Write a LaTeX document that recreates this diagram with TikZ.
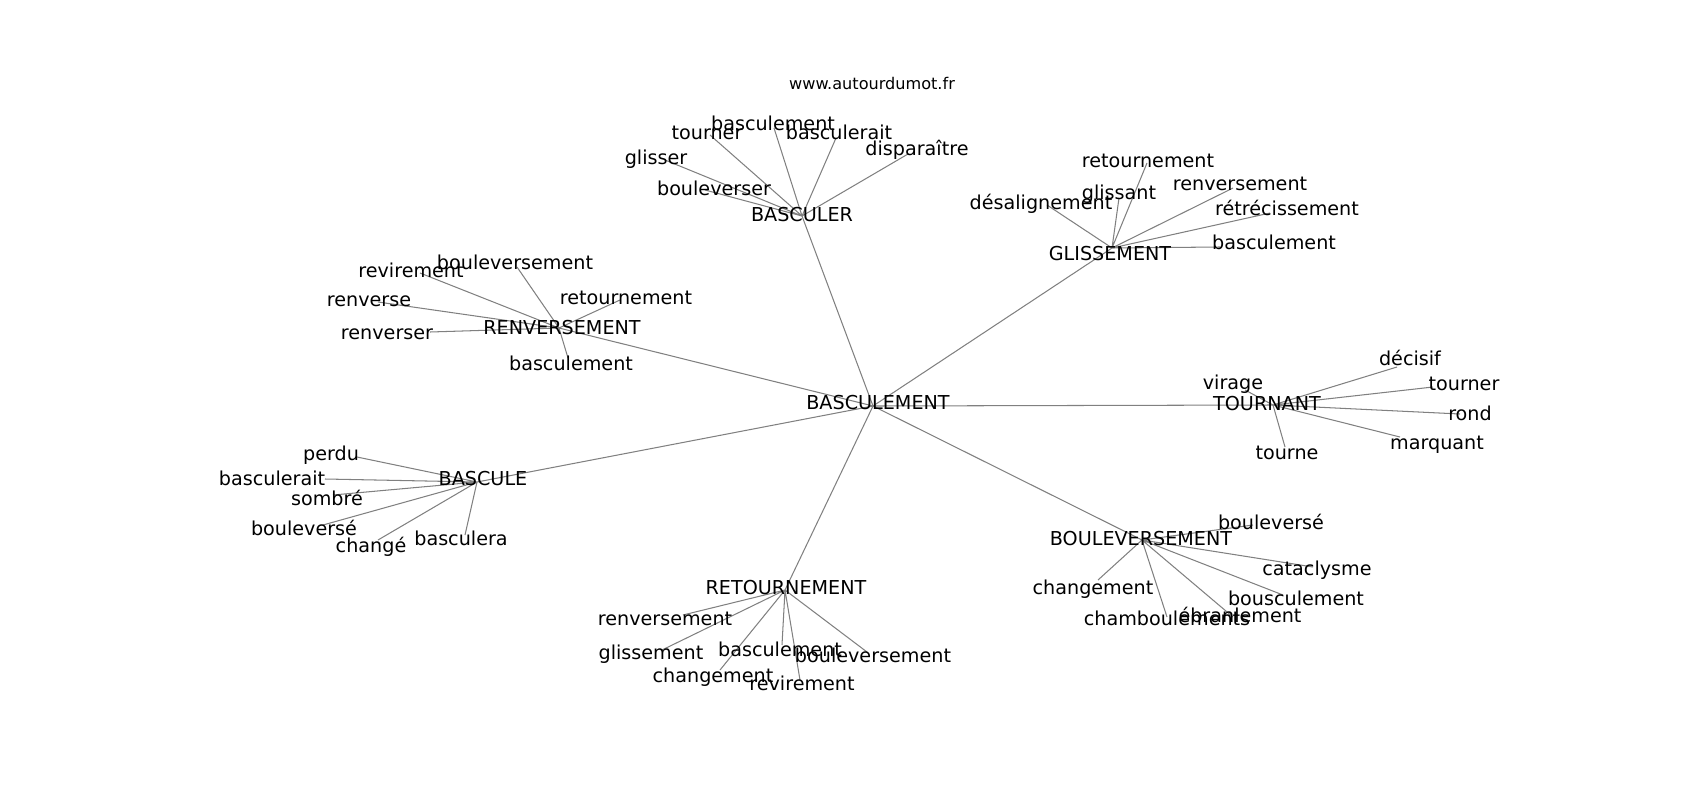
\documentclass[tikz,border=0pt]{standalone}
\usepackage{fontspec}
\setmainfont{DejaVu Sans}
\usepackage{tikz}

\begin{document}
\begin{tikzpicture}[x=0.72pt,y=-0.72pt,
  word/.style = {inner sep=0pt, text height=0.73em, text depth=0pt, yshift=-1.8pt, font=\fontsize{13.8}{16}\selectfont},
  link/.style = {draw=black!50, line width=0.75pt}]
\useasboundingbox (0,0) rectangle (1700,800);
\node[font=\fontsize{11.6}{14}\selectfont, inner sep=0pt, text height=0.73em, text depth=0pt, yshift=-1.2pt] (site) at (872,83) {www.autourdumot.fr};

% hubs
\coordinate (hc) at (873,406);
\coordinate (hbr) at (802,216);
\coordinate (hgl) at (1112,248);
\coordinate (hrv) at (559,328);
\coordinate (hto) at (1273,405);
\coordinate (hbc) at (477,482);
\coordinate (hbo) at (1142,540);
\coordinate (hrt) at (785,590);

% leaf ends, BASCULER
\coordinate (br1) at (665,160);
\coordinate (br2) at (710,135);
\coordinate (br3) at (774,128);
\coordinate (br4) at (836,138);
\coordinate (br5) at (908,154);
\coordinate (br6) at (705,190);
% GLISSEMENT
\coordinate (gl1) at (1147,163);
\coordinate (gl2) at (1119,198);
\coordinate (gl3) at (1047,205);
\coordinate (gl4) at (1233,188);
\coordinate (gl5) at (1270,213);
\coordinate (gl6) at (1220,247);
% RENVERSEMENT
\coordinate (rv1) at (420,273);
\coordinate (rv2) at (517,267);
\coordinate (rv3) at (378,302);
\coordinate (rv4) at (430,332);
\coordinate (rv5) at (620,300);
\coordinate (rv6) at (568,358);
% TOURNANT
\coordinate (to1) at (1245,390);
\coordinate (to2) at (1397,367);
\coordinate (to3) at (1433,387);
\coordinate (to4) at (1460,414);
\coordinate (to5) at (1400,437);
\coordinate (to6) at (1285,447);
% BASCULE
\coordinate (bc1) at (357,457);
\coordinate (bc2) at (325,479);
\coordinate (bc3) at (333,495);
\coordinate (bc4) at (323,525);
\coordinate (bc5) at (378,540);
\coordinate (bc6) at (465,535);
% BOULEVERSEMENT
\coordinate (bo1) at (1253,525);
\coordinate (bo2) at (1313,567);
\coordinate (bo3) at (1098,580);
\coordinate (bo4) at (1283,595);
\coordinate (bo5) at (1233,617);
\coordinate (bo6) at (1167,617);
% RETOURNEMENT
\coordinate (rt1) at (683,615);
\coordinate (rt2) at (662,650);
\coordinate (rt3) at (782,645);
\coordinate (rt4) at (867,652);
\coordinate (rt5) at (720,670);
\coordinate (rt6) at (800,680);

% edges
\draw[link] (hc) -- (hbr);
\draw[link] (hc) -- (hgl);
\draw[link] (hc) -- (hrv);
\draw[link] (hc) -- (hto);
\draw[link] (hc) -- (hbc);
\draw[link] (hc) -- (hbo);
\draw[link] (hc) -- (hrt);
\draw[link] (hbr) -- (br1) (hbr) -- (br2) (hbr) -- (br3) (hbr) -- (br4) (hbr) -- (br5) (hbr) -- (br6);
\draw[link] (hgl) -- (gl1) (hgl) -- (gl2) (hgl) -- (gl3) (hgl) -- (gl4) (hgl) -- (gl5) (hgl) -- (gl6);
\draw[link] (hrv) -- (rv1) (hrv) -- (rv2) (hrv) -- (rv3) (hrv) -- (rv4) (hrv) -- (rv5) (hrv) -- (rv6);
\draw[link] (hto) -- (to1) (hto) -- (to2) (hto) -- (to3) (hto) -- (to4) (hto) -- (to5) (hto) -- (to6);
\draw[link] (hbc) -- (bc1) (hbc) -- (bc2) (hbc) -- (bc3) (hbc) -- (bc4) (hbc) -- (bc5) (hbc) -- (bc6);
\draw[link] (hbo) -- (bo1) (hbo) -- (bo2) (hbo) -- (bo3) (hbo) -- (bo4) (hbo) -- (bo5) (hbo) -- (bo6);
\draw[link] (hrt) -- (rt1) (hrt) -- (rt2) (hrt) -- (rt3) (hrt) -- (rt4) (hrt) -- (rt5) (hrt) -- (rt6);

% labels
\node[word] (basculement) at (878,402) {BASCULEMENT};
\node[word] (basculer) at (802,214) {BASCULER};
\node[word] (glissement) at (1110,253) {GLISSEMENT};
\node[word] (renversement) at (562,327) {RENVERSEMENT};
\node[word] (tournant) at (1267,403) {TOURNANT};
\node[word] (bascule) at (483,478) {BASCULE};
\node[word] (bouleversement) at (1141,538) {BOULEVERSEMENT};
\node[word] (retournement) at (786,587) {RETOURNEMENT};

\node[word] (tbr1) at (656,157) {glisser};
\node[word] (tbr2) at (707,132) {tourner};
\node[word] (tbr3) at (773,123) {basculement};
\node[word] (tbr4) at (839,132) {basculerait};
\node[word] (tbr5) at (917,148) {disparaître};
\node[word] (tbr6) at (714,188) {bouleverser};

\node[word] (tgl1) at (1148,160) {retournement};
\node[word] (tgl2) at (1119,192) {glissant};
\node[word] (tgl3) at (1041,202) {désalignement};
\node[word] (tgl4) at (1240,183) {renversement};
\node[word] (tgl5) at (1287,208) {rétrécissement};
\node[word] (tgl6) at (1274,242) {basculement};

\node[word] (trv1) at (411,270) {revirement};
\node[word] (trv2) at (515,262) {bouleversement};
\node[word] (trv3) at (369,299) {renverse};
\node[word] (trv4) at (387,332) {renverser};
\node[word] (trv5) at (626,297) {retournement};
\node[word] (trv6) at (571,363) {basculement};

\node[word] (tto1) at (1233,382) {virage};
\node[word] (tto2) at (1410,358) {décisif};
\node[word] (tto3) at (1464,383) {tourner};
\node[word] (tto4) at (1470,413) {rond};
\node[word] (tto5) at (1437,442) {marquant};
\node[word] (tto6) at (1287,452) {tourne};

\node[word] (tbc1) at (331,453) {perdu};
\node[word] (tbc2) at (272,478) {basculerait};
\node[word] (tbc3) at (327,498) {sombré};
\node[word] (tbc4) at (304,528) {bouleversé};
\node[word] (tbc5) at (371,545) {changé};
\node[word] (tbc6) at (461,538) {basculera};

\node[word] (tbo1) at (1271,522) {bouleversé};
\node[word] (tbo2) at (1317,568) {cataclysme};
\node[word] (tbo3) at (1093,587) {changement};
\node[word] (tbo4) at (1296,598) {bousculement};
\node[word] (tbo5) at (1240,615) {ébranlement};
\node[word] (tbo6) at (1167,618) {chamboulements};

\node[word] (trt1) at (665,618) {renversement};
\node[word] (trt2) at (651,652) {glissement};
\node[word] (trt3) at (780,649) {basculement};
\node[word] (trt4) at (873,655) {bouleversement};
\node[word] (trt5) at (713,675) {changement};
\node[word] (trt6) at (802,683) {revirement};
\end{tikzpicture}
\end{document}
